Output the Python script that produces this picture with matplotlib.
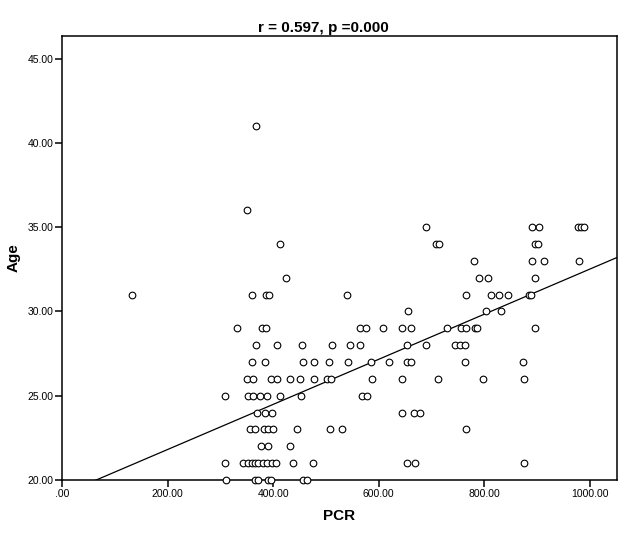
import matplotlib

matplotlib.use("Agg")
import matplotlib.pyplot as plt
import numpy as np
from matplotlib.ticker import FuncFormatter

plt.rcParams["font.family"] = ["Liberation Sans", "DejaVu Sans"]

# ------------------------------
# Data (PCR vs Age)
# ------------------------------
age_41 = [367]
age_36 = [350]
age_35 = [690, 890, 905, 978, 984, 990]
age_34 = [413, 709, 714, 897, 903]
age_33 = [780, 891, 914, 980]
age_32 = [424, 791, 807, 896]
age_31 = [133, 360, 386, 392, 539, 765, 813, 829, 845, 885, 889]
age_30 = [656, 803, 832]
age_29 = [332, 379, 386, 565, 576, 609, 644, 661, 730, 756, 765, 782, 786, 897]
age_28 = [367, 407, 455, 512, 546, 564, 654, 689, 744, 754, 764]
age_27 = [359, 385, 456, 477, 506, 542, 586, 620, 654, 661, 764, 874]
age_26 = [350, 362, 395, 408, 432, 451, 477, 502, 509, 588, 645, 712, 798, 875]
age_25 = [308, 352, 361, 375, 388, 413, 453, 568, 578]
age_24 = [369, 384, 397, 644, 667, 678]
age_23 = [356, 366, 382, 391, 400, 445, 508, 530, 765]
age_22 = [377, 390, 431]
age_21 = [308, 343, 353, 359, 366, 372, 381, 388, 397, 405, 438, 475, 654, 668, 875]
age_20 = [311, 366, 372, 391, 395, 457, 464]

pcr_by_age = {
    41: age_41, 36: age_36, 35: age_35, 34: age_34, 33: age_33, 32: age_32,
    31: age_31, 30: age_30, 29: age_29, 28: age_28, 27: age_27, 26: age_26,
    25: age_25, 24: age_24, 23: age_23, 22: age_22, 21: age_21, 20: age_20,
}

# fit line as drawn in the reference
fit_intercept = 19.14
fit_slope = 0.01337

title = "r = 0.597, p =0.000"
x_label = "PCR"
y_label = "Age"
x_ticks = [0, 200, 400, 600, 800, 1000]
y_ticks = [20, 25, 30, 35, 40, 45]

pcr = np.array([v for a in pcr_by_age for v in pcr_by_age[a]], dtype=float)
age = np.array([a for a in pcr_by_age for _ in pcr_by_age[a]], dtype=float)

# ------------------------------
# Figure
# ------------------------------
W, H = 626, 541
fig = plt.figure(figsize=(W / 100, H / 100), dpi=100)
ax = fig.add_axes([62.3 / W, 1 - 480 / H, (617 - 62.3) / W, (480 - 36) / H])

xmin, xmax = 0, 1052
ymin, ymax = 20, 46.35
ax.set_xlim(xmin, xmax)
ax.set_ylim(ymin, ymax)

ax.scatter(
    pcr, age, s=23, facecolors="white", edgecolors="black",
    linewidths=0.8, clip_on=False, zorder=3,
)

xs = np.array([xmin, xmax])
ax.plot(xs, fit_intercept + fit_slope * xs, color="black", lw=0.9, zorder=2)


def spss_fmt(v, _pos):
    s = f"{v:.2f}"
    return s[1:] if s.startswith("0.") else s


ax.set_xticks(x_ticks)
ax.set_yticks(y_ticks)
ax.xaxis.set_major_formatter(FuncFormatter(spss_fmt))
ax.yaxis.set_major_formatter(FuncFormatter(spss_fmt))
ax.tick_params(
    axis="both", direction="out", length=5, width=1.1, pad=1.5,
    labelsize=7.5, colors="black", top=False, right=False,
)
for sp in ax.spines.values():
    sp.set_linewidth(1.1)
    sp.set_color("black")

fig.text(323 / W, 1 - 31.7 / H, title, ha="center", va="baseline",
         fontsize=11, fontweight="bold")
fig.text(339.5 / W, 1 - 516 / H, x_label, ha="center", va="center",
         fontsize=11, fontweight="bold")
fig.text(13.5 / W, 1 - 258 / H, y_label, ha="center", va="center",
         rotation=90, fontsize=11, fontweight="bold")

fig.savefig("out.png", dpi=100)
plt.close(fig)
